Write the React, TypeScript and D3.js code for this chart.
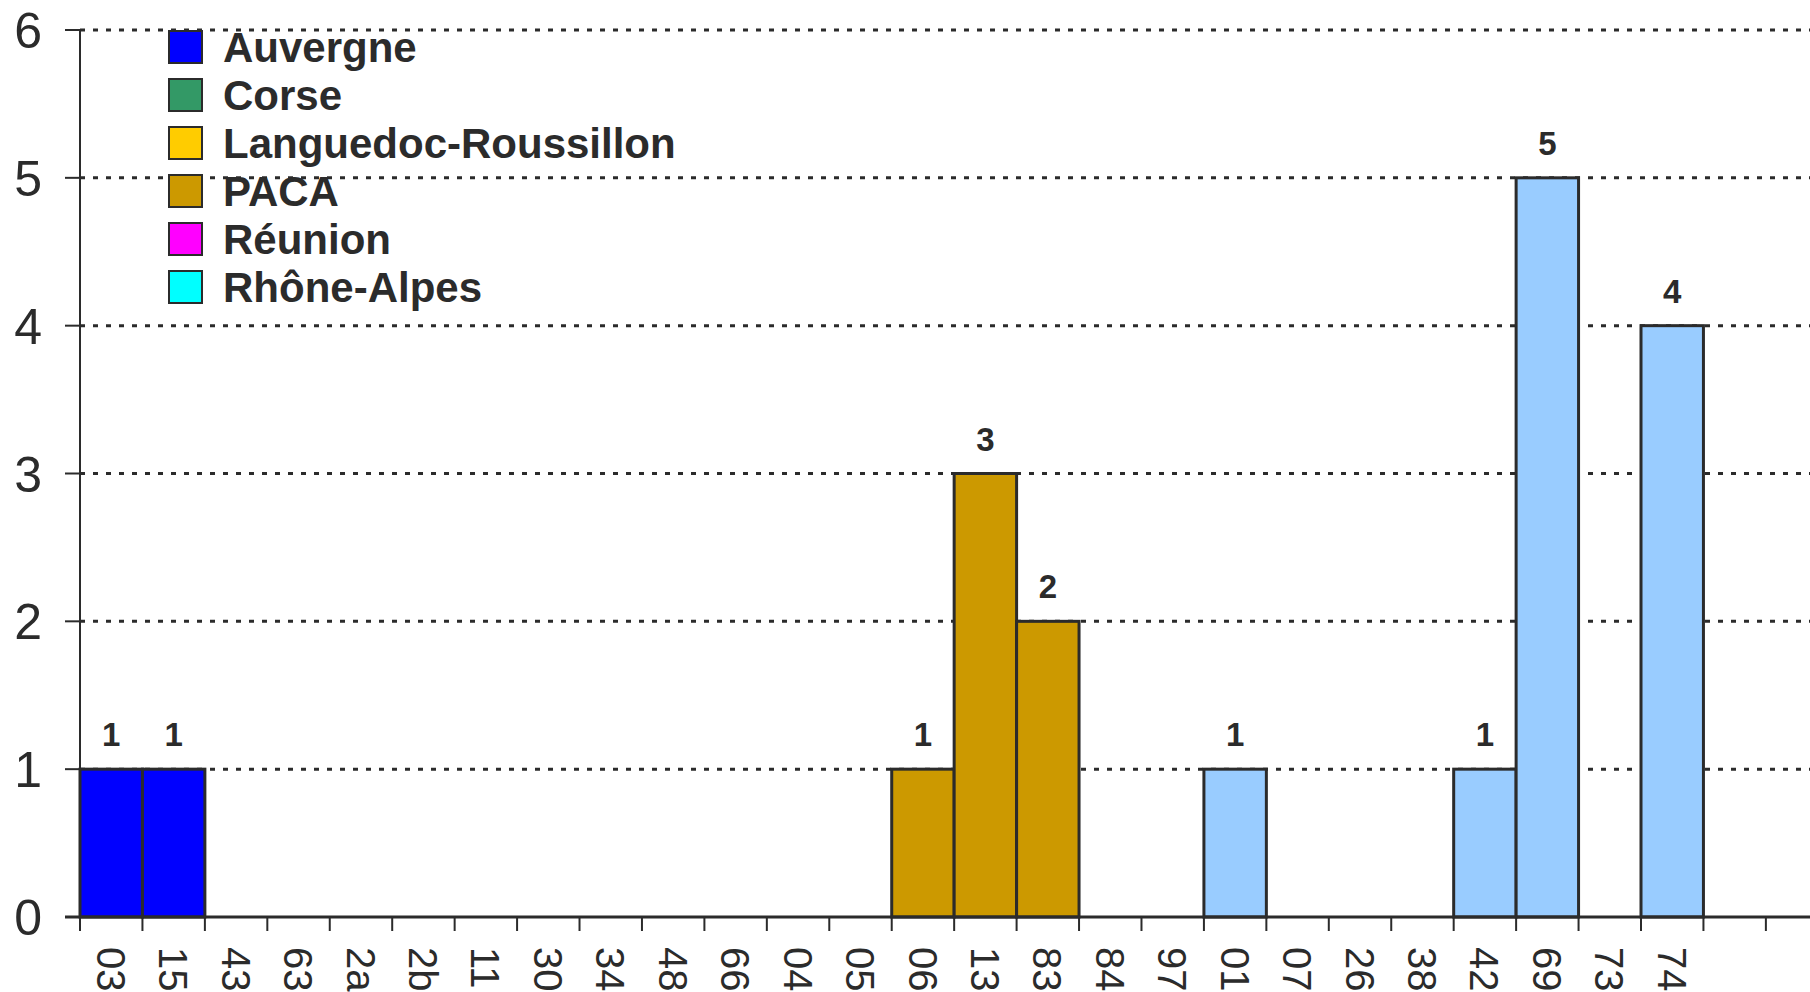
import React from "react";
import * as d3 from "d3";

const categories = ["03","15","43","63","2a","2b","11","30","34","48","66","04","05","06","13","83","84","974","01","07","26","38","42","69","73","74"];
const regionOf = ["Auvergne","Auvergne","Auvergne","Auvergne","Corse","Corse","Languedoc-Roussillon","Languedoc-Roussillon","Languedoc-Roussillon","Languedoc-Roussillon","Languedoc-Roussillon","PACA","PACA","PACA","PACA","PACA","PACA","Réunion","Rhône-Alpes","Rhône-Alpes","Rhône-Alpes","Rhône-Alpes","Rhône-Alpes","Rhône-Alpes","Rhône-Alpes","Rhône-Alpes"];
const values = [1,1,0,0,0,0,0,0,0,0,0,0,0,1,3,2,0,0,1,0,0,0,1,5,0,4];
const regions = ["Auvergne","Corse","Languedoc-Roussillon","PACA","Réunion","Rhône-Alpes"];
const legendColors = ["#0000FF","#339966","#FFCC00","#CC9900","#FF00FF","#00FFFF"];
const barColors = ["#0000FF","#339966","#FFCC00","#CC9900","#FF00FF","#99CCFF"];
const yTicks = [0,1,2,3,4,5,6];
const extraBands = 2;

const W = 1810, H = 992;
const x0 = 80, step = 62.44, y0 = 917, yTop = 30;
const ink = "#2b2b2b";
const font = "'Liberation Sans', Arial, sans-serif";

export default function App() {
  const x = d3.scaleBand<string>().domain(categories).range([x0, x0 + categories.length * step]).paddingInner(0).paddingOuter(0);
  const y = d3.scaleLinear().domain([0, 6]).range([y0, yTop]);
  const colorBar = d3.scaleOrdinal<string, string>().domain(regions).range(barColors);
  const bw = x.bandwidth();
  const tickXs: number[] = [];
  for (let i = 0; i <= categories.length + extraBands; i++) tickXs.push(x0 + i * x.step());

  return (
    <svg width={W} height={H} style={{ position: "absolute", left: 0, top: 0, background: "#fff" }} fontFamily={font}>
      <rect x={0} y={0} width={W} height={H} fill="#fff" />
      {yTicks.filter(t => t > 0).map(t => (
        <line key={"g" + t} x1={x0} x2={W} y1={y(t)} y2={y(t)} stroke={ink} strokeWidth={3} strokeDasharray="5 8" />
      ))}
      {categories.map((c, i) => values[i] > 0 ? (
        <rect key={"b" + c} x={x(c)} y={y(values[i])} width={bw} height={y(0) - y(values[i])}
          fill={colorBar(regionOf[i])} stroke={ink} strokeWidth={3} />
      ) : null)}
      {categories.map((c, i) => values[i] > 0 ? (
        <text key={"v" + c} x={(x(c) as number) + bw / 2} y={y(values[i]) - 23} textAnchor="middle"
          fontSize={33} fontWeight="bold" fill={ink}>{values[i]}</text>
      ) : null)}
      <line x1={x0} x2={x0} y1={y(6)} y2={y(0)} stroke={ink} strokeWidth={2} />
      {yTicks.map(t => (
        <g key={"yt" + t}>
          <line x1={x0 - 15} x2={x0} y1={y(t)} y2={y(t)} stroke={ink} strokeWidth={2} />
          <text x={42} y={y(t)} dy="0.36em" textAnchor="end" fontSize={50} fill={ink}>{t}</text>
        </g>
      ))}
      <line x1={x0 - 15} x2={W} y1={y(0)} y2={y(0)} stroke={ink} strokeWidth={3} />
      {tickXs.map((tx, i) => (
        <line key={"xt" + i} x1={tx} x2={tx} y1={y(0)} y2={y(0) + 14} stroke={ink} strokeWidth={2} />
      ))}
      {categories.map(c => {
        const cx = (x(c) as number) + bw / 2;
        return (
          <text key={"xl" + c} transform={`translate(${cx},947) rotate(90)`} dy="0.36em"
            textAnchor="start" fontSize={40} fill={ink}>{c}</text>
        );
      })}
      {regions.map((r, i) => (
        <g key={"l" + r} transform={`translate(169,${31 + i * 48})`}>
          <rect x={0} y={0} width={33} height={32} fill={legendColors[i]} stroke={ink} strokeWidth={2} />
          <text x={54} y={16} dy="0.36em" fontSize={42} fontWeight="bold" fill={ink}>{r}</text>
        </g>
      ))}
    </svg>
  );
}
